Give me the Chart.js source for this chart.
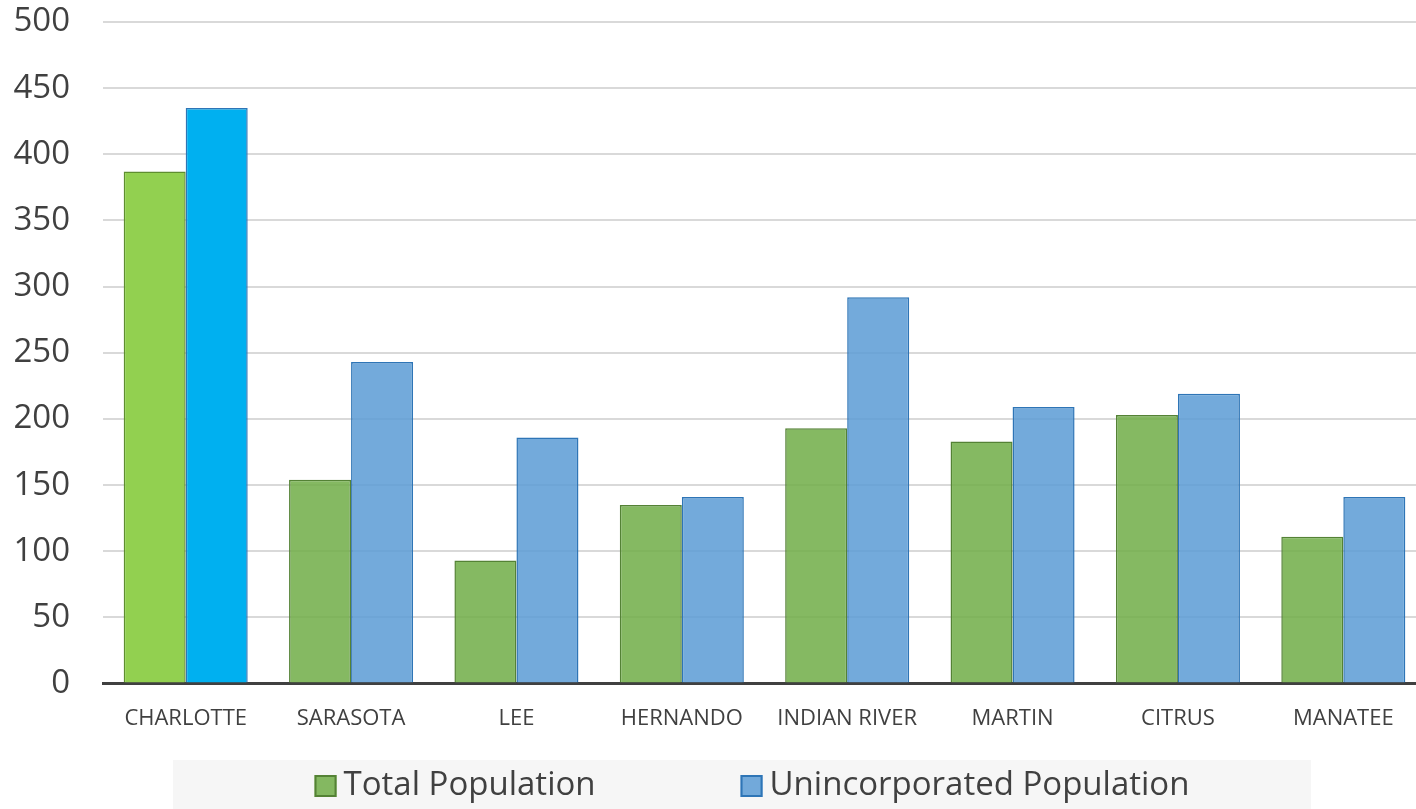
<!DOCTYPE html>
<html>
<head>
<meta charset="utf-8">
<title>Population by County</title>
<script src="https://cdn.jsdelivr.net/npm/chart.js@4.4.1/dist/chart.umd.min.js"></script>
<style>
  html, body { margin: 0; padding: 0; background: #ffffff; overflow: hidden; }
  #wrap { position: absolute; left: 0; top: 0; width: 1428px; height: 809px; }
</style>
</head>
<body>
<div id="wrap"><canvas id="chart" width="1428" height="809"></canvas></div>
<script>
// County names along the category axis
const counties = ['CHARLOTTE', 'SARASOTA', 'LEE', 'HERNANDO', 'INDIAN RIVER', 'MARTIN', 'CITRUS', 'MANATEE'];

// Series values
const totalPopulation = [387, 154, 93, 135, 193, 183, 203, 111];
const unincorporatedPopulation = [435, 243, 186, 141, 292, 209, 219, 141];

// Value axis ticks
const yTicks = [0, 50, 100, 150, 200, 250, 300, 350, 400, 450, 500];

// Series labels
const seriesNames = ['Total Population', 'Unincorporated Population'];

// The first county is drawn in brighter tones
const highlightIndex = 0;

const FONT = "'Open Sans', 'Noto Sans', sans-serif";
const TEXT = '#404040';

function colorsFor(base, highlight) {
  return counties.map((_, i) => (i === highlightIndex ? highlight : base));
}

// Legend drawn in a light grey band under the axis labels
const bandLegend = {
  id: 'bandLegend',
  afterDraw(chart) {
    const ctx = chart.ctx;
    const top = chart.height - 49;
    const boxLeft = 173, boxRight = 1311;
    ctx.save();
    ctx.fillStyle = '#F6F6F6';
    ctx.fillRect(boxLeft, top, boxRight - boxLeft, 49);

    ctx.font = '33px ' + FONT;
    const sw = 22, gap = 7, itemGap = 145;
    const items = chart.data.datasets.map(ds => ({
      text: ds.label,
      fill: ds.legendFill,
      stroke: ds.legendStroke,
      w: ctx.measureText(ds.label).width
    }));
    let total = 0;
    items.forEach((it, i) => { total += sw + gap + it.w + (i ? itemGap : 0); });
    let x = 752 - total / 2;
    const cy = top + 26;
    items.forEach((it, i) => {
      if (i) x += itemGap;
      ctx.fillStyle = it.fill;
      ctx.fillRect(x, cy - 11, sw, sw);
      ctx.lineWidth = 2;
      ctx.strokeStyle = it.stroke;
      ctx.strokeRect(x + 1, cy - 10, sw - 2, sw - 2);
      x += sw + gap;
      ctx.fillStyle = TEXT;
      ctx.textBaseline = 'middle';
      ctx.textAlign = 'left';
      ctx.fillText(it.text, x, cy);
      x += it.w;
    });
    ctx.restore();
  }
};

new Chart(document.getElementById('chart'), {
  type: 'bar',
  data: {
    labels: counties,
    datasets: [
      {
        label: seriesNames[0],
        data: totalPopulation,
        backgroundColor: colorsFor('rgba(112,173,71,0.85)', '#92D050'),
        borderColor: colorsFor('#548235', '#5E8E2F'),
        borderWidth: 1.5,
        legendFill: 'rgba(112,173,71,0.85)',
        legendStroke: '#548235'
      },
      {
        label: seriesNames[1],
        data: unincorporatedPopulation,
        backgroundColor: colorsFor('rgba(91,155,213,0.85)', '#00B0F0'),
        borderColor: colorsFor('#2E75B6', '#2E75B6'),
        borderWidth: 1.5,
        legendFill: 'rgba(91,155,213,0.85)',
        legendStroke: '#2E75B6'
      }
    ]
  },
  options: {
    responsive: false,
    devicePixelRatio: 1,
    animation: false,
    categoryPercentage: 0.75,
    barPercentage: 1.0,
    layout: { padding: { left: 12, right: 2, top: 22, bottom: 55 } },
    plugins: {
      legend: { display: false },
      tooltip: { enabled: false }
    },
    scales: {
      x: {
        z: 1,
        grid: { display: false, drawTicks: false },
        border: { display: true, color: '#404040', width: 3 },
        ticks: {
          color: TEXT,
          font: { family: FONT, size: 22 },
          padding: 22,
          maxRotation: 0,
          autoSkip: false
        }
      },
      y: {
        min: 0,
        max: 500,
        afterBuildTicks(scale) { scale.ticks = yTicks.map(v => ({ value: v })); },
        afterFit(scale) {
          // label column plus a single gap before the plot
          scale.width = 91;
          scale.paddingTop = 0;
          scale.paddingBottom = 0;
        },
        grid: { color: '#D9D9D9', lineWidth: 2, drawTicks: false },
        border: { display: false },
        ticks: {
          color: TEXT,
          font: { family: FONT, size: 33 },
          padding: 33
        }
      }
    }
  },
  plugins: [bandLegend]
});
</script>
</body>
</html>
